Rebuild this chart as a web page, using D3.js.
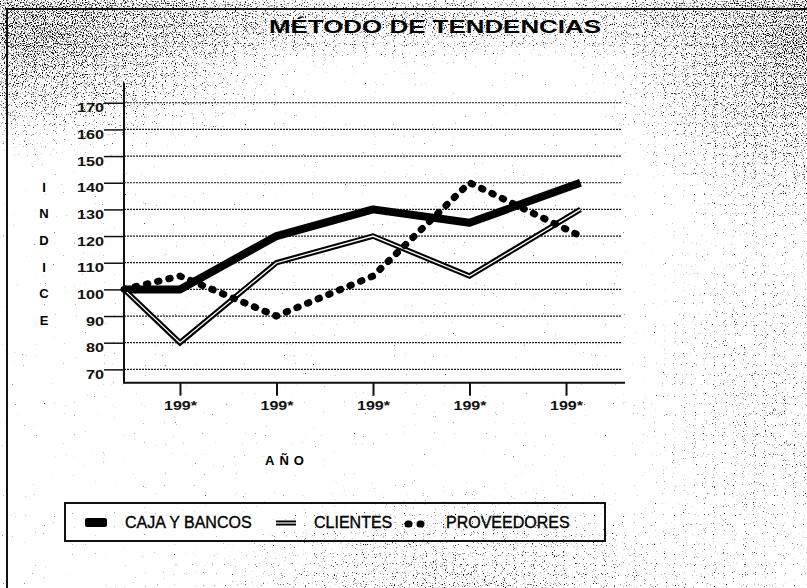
<!DOCTYPE html>
<html lang="es">
<head>
<meta charset="UTF-8">
<title>Método de tendencias</title>
<style>
  body, html { margin: 0; padding: 0; background: #fff; overflow: hidden; }
  svg { display: block; font-family: "Liberation Sans", Arial, sans-serif; }
  .grid line { stroke: #1a1a1a; stroke-width: 1.2; stroke-dasharray: 2 1; }
  .ejes text { font-weight: bold; fill: #111; }
</style>
</head>
<body>
<div id="chart"></div>
<script src="https://cdn.jsdelivr.net/npm/d3@7"></script>
<script>
// periodo 0.42 = base (sobre el eje), 1..5 = años
const periodos = [0.42, 1, 2, 3, 4, 5.15];
const tickPeriodos = [1, 2, 3, 4, 5];
const tickLabels = ["199*", "199*", "199*", "199*", "199*"];
const yTicks = [70, 80, 90, 100, 110, 120, 130, 140, 150, 160, 170];

const cajaBancos  = [100, 100, 120, 130, 125, 140];
const clientes    = [100,  80, 110, 120, 105, 130];
const proveedores = [100, 105,  90, 105, 140, 120];

const seriesNames = ["CAJA Y BANCOS", "CLIENTES", "PROVEEDORES"];
const ejeYLetras = ["I", "N", "D", "I", "C", "E"];

const W = 807, H = 588;
const svg = d3.select("#chart").append("svg")
  .attr("width", W).attr("height", H);

// ---- fondo con moteado de escaneo ----
const defs = svg.append("defs");
const f = defs.append("filter").attr("id", "mota")
  .attr("x", 0).attr("y", 0).attr("width", W).attr("height", H)
  .attr("filterUnits", "userSpaceOnUse");
f.append("feTurbulence").attr("type", "fractalNoise")
  .attr("baseFrequency", 0.9).attr("numOctaves", 1).attr("seed", 7).attr("result", "n");
f.append("feColorMatrix").attr("in", "n").attr("type", "matrix")
  .attr("values", "0 0 0 0 0  0 0 0 0 0  0 0 0 0 0  1 0 0 0 0").attr("result", "na");
f.append("feComposite").attr("in", "na").attr("in2", "SourceGraphic")
  .attr("operator", "arithmetic").attr("k1", 0).attr("k2", 1).attr("k3", 0.26).attr("k4", -0.74)
  .attr("result", "c");
const ct = f.append("feComponentTransfer").attr("in", "c");
ct.append("feFuncA").attr("type", "linear").attr("slope", 7).attr("intercept", 0);

function grad(id, op) {
  const g = defs.append("radialGradient").attr("id", id);
  g.append("stop").attr("offset", "0%").attr("stop-color", "#000").attr("stop-opacity", op);
  g.append("stop").attr("offset", "55%").attr("stop-color", "#000").attr("stop-opacity", op * 0.6);
  g.append("stop").attr("offset", "100%").attr("stop-color", "#000").attr("stop-opacity", 0);
}
grad("gTL", 1); grad("gTR", 1); grad("gB", 0.6); grad("gR", 0.45); grad("gT", 0.7);

const motas = svg.append("g").attr("filter", "url(#mota)");
motas.append("ellipse").attr("cx", 40).attr("cy", 30).attr("rx", 300).attr("ry", 140).attr("fill", "url(#gTL)");
motas.append("ellipse").attr("cx", 807).attr("cy", 40).attr("rx", 240).attr("ry", 210).attr("fill", "url(#gTR)");
motas.append("ellipse").attr("cx", 420).attr("cy", 20).attr("rx", 430).attr("ry", 50).attr("fill", "url(#gT)");
motas.append("ellipse").attr("cx", 470).attr("cy", 590).attr("rx", 320).attr("ry", 120).attr("fill", "url(#gB)");
motas.append("ellipse").attr("cx", 770).attr("cy", 400).attr("rx", 150).attr("ry", 270).attr("fill", "url(#gR)");

// marco del documento
svg.append("path")
  .attr("d", `M7,${H} V9 H${W}`)
  .attr("fill", "none").attr("stroke", "#111").attr("stroke-width", 2);

// ---- escalas ----
const x = d3.scaleLinear().domain([0.42, 5.58]).range([124, 622]);
const y = d3.scaleLinear().domain([65, 170]).range([382.7, 102.75]);

// título
svg.append("text")
  .attr("x", 435).attr("y", 33)
  .attr("text-anchor", "middle")
  .attr("font-size", 18).attr("font-weight", "bold")
  .attr("textLength", 332).attr("lengthAdjust", "spacingAndGlyphs")
  .text("MÉTODO DE TENDENCIAS");

// rejilla
svg.append("g").attr("class", "grid")
  .selectAll("line").data(yTicks).join("line")
  .attr("x1", x(0.42)).attr("x2", x(5.58))
  .attr("y1", d => y(d)).attr("y2", d => y(d));

// eje Y
const gy = svg.append("g").attr("class", "ejes")
  .attr("transform", `translate(${x(0.42)},0)`)
  .call(d3.axisLeft(y).tickValues(yTicks).tickSize(20).tickPadding(0));
gy.select(".domain").remove();
gy.selectAll(".tick line").attr("stroke", "#111").attr("stroke-width", 1.5);
gy.selectAll(".tick text")
  .attr("font-size", 13).attr("dy", "0.7em")
  .attr("textLength", 27).attr("lengthAdjust", "spacingAndGlyphs")
  .attr("font-family", "Liberation Sans, Arial, sans-serif");
gy.selectAll(".tick").filter(d => d < 100).select("text")
  .attr("textLength", 18);

// eje X
const gx = svg.append("g").attr("class", "ejes")
  .attr("transform", `translate(0,${y(65)})`)
  .call(d3.axisBottom(x).tickValues(tickPeriodos).tickSize(13).tickPadding(6)
    .tickFormat((d, i) => tickLabels[i]));
gx.select(".domain").remove();
gx.selectAll(".tick line").attr("stroke", "#111").attr("stroke-width", 2);
gx.selectAll(".tick text")
  .attr("font-size", 12)
  .attr("textLength", 33).attr("lengthAdjust", "spacingAndGlyphs")
  .attr("font-family", "Liberation Sans, Arial, sans-serif");

svg.append("line")
  .attr("x1", x(0.42)).attr("x2", 625)
  .attr("y1", y(65)).attr("y2", y(65))
  .attr("stroke", "#111").attr("stroke-width", 2);
svg.append("line")
  .attr("x1", x(0.42)).attr("x2", x(0.42))
  .attr("y1", 83).attr("y2", y(65) + 1)
  .attr("stroke", "#111").attr("stroke-width", 2);

// letras verticales INDICE
svg.append("g").selectAll("text").data(ejeYLetras).join("text")
  .attr("x", 44).attr("y", (d, i) => y(140 - i * 10) + 9)
  .attr("text-anchor", "middle")
  .attr("font-size", 13).attr("font-weight", "bold")
  .text(d => d);

// título eje X
svg.append("text")
  .attr("x", 287).attr("y", 465)
  .attr("text-anchor", "middle")
  .attr("font-size", 13).attr("font-weight", "bold")
  .attr("letter-spacing", 5)
  .text("AÑO");

// ---- series ----
const line = d3.line().x((d, i) => x(periodos[i])).y(d => y(d));

svg.append("path").datum(cajaBancos)
  .attr("d", line).attr("fill", "none")
  .attr("stroke", "#000").attr("stroke-width", 8).attr("stroke-linejoin", "round");

svg.append("path").datum(clientes)
  .attr("d", line).attr("fill", "none")
  .attr("stroke", "#000").attr("stroke-width", 5.5).attr("stroke-linejoin", "miter");
svg.append("path").datum(clientes)
  .attr("d", line).attr("fill", "none")
  .attr("stroke", "#fff").attr("stroke-width", 1.3).attr("stroke-linejoin", "miter");

svg.append("path").datum(proveedores)
  .attr("d", line).attr("fill", "none")
  .attr("stroke", "#000").attr("stroke-width", 7)
  .attr("stroke-linecap", "round").attr("stroke-dasharray", "1.5 10");

// ---- leyenda ----
const lg = svg.append("g");
lg.append("rect")
  .attr("x", 65).attr("y", 503).attr("width", 540).attr("height", 38)
  .attr("fill", "none").attr("stroke", "#111").attr("stroke-width", 2);

const legendY = 522;
// caja y bancos: barra negra
lg.append("rect").attr("x", 85).attr("y", legendY - 4).attr("width", 22).attr("height", 9)
  .attr("rx", 2).attr("fill", "#000");
// clientes: doble raya
lg.append("line").attr("x1", 276).attr("x2", 296).attr("y1", legendY + 1).attr("y2", legendY + 1)
  .attr("stroke", "#000").attr("stroke-width", 5);
lg.append("line").attr("x1", 276).attr("x2", 296).attr("y1", legendY + 1).attr("y2", legendY + 1)
  .attr("stroke", "#fff").attr("stroke-width", 1.2);
// proveedores: dos puntos
lg.append("line").attr("x1", 408).attr("x2", 421).attr("y1", legendY + 2).attr("y2", legendY + 2)
  .attr("stroke", "#000").attr("stroke-width", 7)
  .attr("stroke-linecap", "round").attr("stroke-dasharray", "1 11");

const legendX = [125, 314, 446];
lg.selectAll("text.ley").data(seriesNames).join("text")
  .attr("class", "ley")
  .attr("x", (d, i) => legendX[i]).attr("y", legendY + 6)
  .attr("font-size", 16)
  .attr("stroke", "#000").attr("stroke-width", 0.35)
  .text(d => d);
</script>
</body>
</html>
